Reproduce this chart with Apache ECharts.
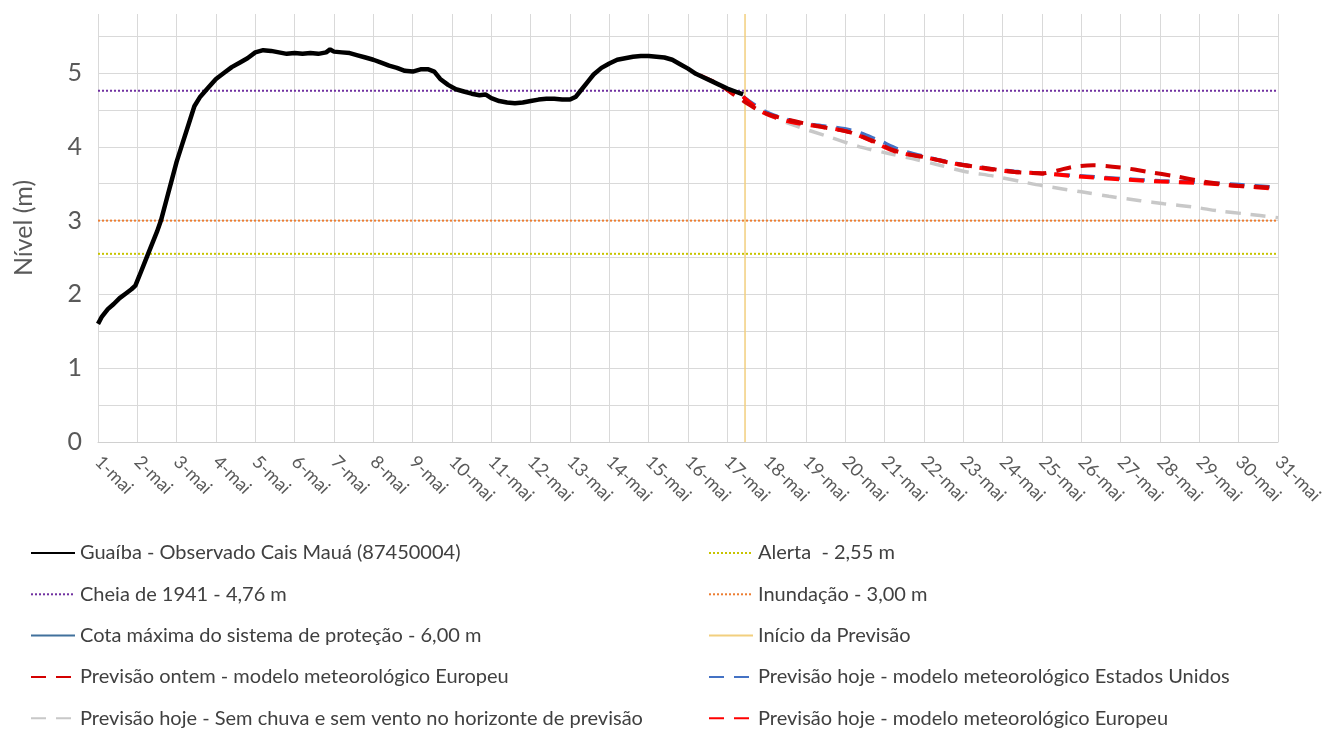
<!DOCTYPE html>
<html>
<head>
<meta charset="utf-8">
<script src="https://cdn.jsdelivr.net/npm/echarts@6/dist/echarts.min.js"></script>
<style>
  html, body { margin: 0; padding: 0; background: #fff; }
  #chart { width: 1326px; height: 729px; }
</style>
</head>
<body>
<div id="chart"></div>
<script>
// days of May (1 = 1-mai), values in metres
const dayTicks = [1, 31];

const observado = [
  [1.0, 1.60], [1.1, 1.70], [1.25, 1.80], [1.4, 1.87], [1.55, 1.95], [1.7, 2.01], [1.85, 2.07], [1.95, 2.12],
  [2.05, 2.25], [2.2, 2.45], [2.35, 2.65], [2.5, 2.85], [2.6, 3.0], [2.75, 3.3], [2.9, 3.6], [3.0, 3.8],
  [3.15, 4.05], [3.3, 4.3], [3.45, 4.55], [3.6, 4.68], [3.8, 4.80], [4.0, 4.92], [4.2, 5.0], [4.4, 5.08],
  [4.6, 5.14], [4.8, 5.2], [5.0, 5.28], [5.2, 5.31], [5.4, 5.30], [5.6, 5.28], [5.8, 5.26], [6.0, 5.27],
  [6.2, 5.26], [6.4, 5.27], [6.6, 5.26], [6.8, 5.28], [6.9, 5.32], [7.0, 5.29], [7.2, 5.28], [7.4, 5.27],
  [7.6, 5.24], [7.8, 5.21], [8.0, 5.18], [8.2, 5.14], [8.4, 5.10], [8.6, 5.07], [8.8, 5.03], [9.0, 5.02],
  [9.2, 5.05], [9.4, 5.05], [9.55, 5.02], [9.7, 4.92], [9.9, 4.84], [10.1, 4.78], [10.3, 4.75], [10.5, 4.72],
  [10.7, 4.70], [10.85, 4.71], [11.0, 4.66], [11.2, 4.62], [11.4, 4.60], [11.6, 4.59], [11.8, 4.60], [12.0, 4.62],
  [12.2, 4.64], [12.4, 4.65], [12.6, 4.65], [12.8, 4.64], [13.0, 4.64], [13.15, 4.68], [13.3, 4.78], [13.45, 4.88],
  [13.6, 4.98], [13.8, 5.07], [14.0, 5.13], [14.2, 5.18], [14.4, 5.20], [14.6, 5.22], [14.8, 5.23], [15.0, 5.23],
  [15.2, 5.22], [15.4, 5.21], [15.6, 5.18], [15.8, 5.12], [16.0, 5.06], [16.2, 4.99], [16.4, 4.94], [16.6, 4.89],
  [16.8, 4.84], [17.0, 4.79], [17.2, 4.75], [17.4, 4.71]
];

const previsaoOntemEuropeu = [
  [16.3, 4.97], [16.8, 4.84], [17.3, 4.66], [17.9, 4.47], [18.6, 4.36], [19.4, 4.27], [20.1, 4.20], [20.7, 4.08],
  [21.3, 3.94], [22.1, 3.85], [22.8, 3.77], [23.6, 3.71], [24.3, 3.66], [25.0, 3.64], [25.4, 3.68], [25.8, 3.73],
  [26.3, 3.75], [27.0, 3.72], [27.7, 3.66], [28.4, 3.60], [29.1, 3.53], [29.8, 3.48], [30.4, 3.46], [31.0, 3.44]
];

const previsaoHojeEUA = [
  [17.4, 4.68], [18.0, 4.47], [18.8, 4.33], [19.5, 4.28], [20.2, 4.22], [20.8, 4.10], [21.4, 3.96], [22.1, 3.86],
  [22.8, 3.78], [23.6, 3.71], [24.3, 3.67], [25.0, 3.64], [25.9, 3.61], [27.0, 3.57], [28.0, 3.54], [29.0, 3.52],
  [30.0, 3.49], [31.0, 3.45]
];

const previsaoHojeEuropeu = [
  [17.4, 4.68], [17.9, 4.47], [18.6, 4.34], [19.4, 4.27], [20.1, 4.20], [20.7, 4.07], [21.3, 3.93], [22.1, 3.85],
  [22.8, 3.77], [23.6, 3.70], [24.3, 3.66], [25.0, 3.64], [25.9, 3.60], [27.0, 3.56], [28.0, 3.53], [29.0, 3.51],
  [30.0, 3.47], [31.0, 3.43]
];

const previsaoSemChuva = [
  [17.4, 4.68], [18.0, 4.45], [18.65, 4.30], [19.56, 4.14], [20.37, 4.00], [21.1, 3.91], [21.7, 3.84], [22.4, 3.75],
  [23.0, 3.67], [23.8, 3.60], [24.55, 3.52], [25.05, 3.47], [26.0, 3.39], [26.7, 3.33], [27.5, 3.27], [28.1, 3.23],
  [28.9, 3.18], [29.5, 3.13], [30.2, 3.09], [31.0, 3.04]
];

const cheia1941 = 4.76;
const alerta = 2.55;
const inundacao = 3.00;
const cotaMaxima = 6.00;
const inicioPrevisao = 17.45;
const yMax = 5.8;

const hline = v => dayTicks.map(d => [d, v]);

const chart = echarts.init(document.getElementById('chart'));

// last split line (at yMax) is left invisible, the reference has no top border
const gridColors = [];
for (let i = 0; i < 12; i++) gridColors.push('#d9d9d9');
gridColors.push('rgba(0,0,0,0)');

const legendText = { fontFamily: 'Lato', fontSize: 20, color: '#404040' };
const legendBase = {
  orient: 'vertical', top: 543, itemGap: 21.3, itemWidth: 44, itemHeight: 20,
  textStyle: legendText, padding: 0,
  itemStyle: { opacity: 0 }
};

chart.setOption({
  animation: false,
  backgroundColor: '#fff',
  textStyle: { fontFamily: 'Lato' },
  grid: { left: 98, right: 48, top: 14, bottom: 287 },
  legend: [
    Object.assign({}, legendBase, {
      left: 30,
      data: ['Guaíba - Observado Cais Mauá (87450004)', 'Cheia de 1941 - 4,76 m',
        'Cota máxima do sistema de proteção - 6,00 m', 'Previsão ontem - modelo meteorológico Europeu',
        'Previsão hoje - Sem chuva e sem vento no horizonte de previsão']
    }),
    Object.assign({}, legendBase, {
      left: 708,
      data: ['Alerta  - 2,55 m', 'Inundação - 3,00 m', 'Início da Previsão',
        'Previsão hoje - modelo meteorológico Estados Unidos', 'Previsão hoje - modelo meteorológico Europeu']
    })
  ],
  xAxis: {
    type: 'value', min: 1, max: 31, interval: 1,
    axisLine: { show: true, lineStyle: { color: '#d0d0d0', width: 1 } },
    axisTick: { show: false },
    splitLine: { show: true, lineStyle: { color: '#d9d9d9', width: 1 } },
    axisLabel: {
      rotate: -45, color: '#595959', fontSize: 18, margin: 17,
      formatter: v => v + '-mai'
    }
  },
  yAxis: {
    type: 'value', min: 0, max: yMax, interval: 0.5,
    name: 'Nível (m)', nameLocation: 'middle', nameGap: 62, nameRotate: 90,
    nameTextStyle: { fontSize: 25, color: '#595959' },
    axisLine: { show: false },
    axisTick: { show: false },
    splitLine: { show: true, lineStyle: { color: gridColors, width: 1 } },
    axisLabel: {
      color: '#595959', fontSize: 25, margin: 16,
      formatter: v => (Number.isInteger(v) ? String(v) : '')
    }
  },
  series: [
    {
      name: 'Alerta  - 2,55 m', type: 'line', data: hline(alerta), symbol: 'none', z: 2,
      color: '#c8c400', lineStyle: { color: '#c8c400', width: 2, type: 'dotted' }
    },
    {
      name: 'Inundação - 3,00 m', type: 'line', data: hline(inundacao), symbol: 'none', z: 2,
      color: '#ed7d31', lineStyle: { color: '#ed7d31', width: 2, type: 'dotted' }
    },
    {
      name: 'Cheia de 1941 - 4,76 m', type: 'line', data: hline(cheia1941), symbol: 'none', z: 2,
      color: '#7030a0', lineStyle: { color: '#7030a0', width: 2, type: 'dotted' }
    },
    {
      name: 'Cota máxima do sistema de proteção - 6,00 m', type: 'line', data: hline(cotaMaxima), symbol: 'none', z: 2,
      color: '#41719c', lineStyle: { color: '#41719c', width: 2 }
    },
    {
      name: 'Início da Previsão', type: 'line', data: [[inicioPrevisao, 0], [inicioPrevisao, yMax]], symbol: 'none', z: 2,
      color: '#f2cf7e', lineStyle: { color: '#f2cf7e', width: 1.5 }
    },
    {
      name: 'Previsão hoje - Sem chuva e sem vento no horizonte de previsão', type: 'line', data: previsaoSemChuva,
      symbol: 'none', smooth: 0.3, z: 3,
      color: '#c8c8c8', lineStyle: { color: '#c8c8c8', width: 3.5, type: [15, 10] }
    },
    {
      name: 'Previsão hoje - modelo meteorológico Estados Unidos', type: 'line', data: previsaoHojeEUA,
      symbol: 'none', smooth: 0.3, z: 4,
      color: '#4472c4', lineStyle: { color: '#4472c4', width: 3.5, type: [15, 10] }
    },
    {
      name: 'Previsão hoje - modelo meteorológico Europeu', type: 'line', data: previsaoHojeEuropeu,
      symbol: 'none', smooth: 0.3, z: 5,
      color: '#ff0000', lineStyle: { color: '#ff0000', width: 4, type: [15, 10] }
    },
    {
      name: 'Previsão ontem - modelo meteorológico Europeu', type: 'line', data: previsaoOntemEuropeu,
      symbol: 'none', smooth: 0.3, z: 5,
      color: '#d40000', lineStyle: { color: '#d40000', width: 4, type: [15, 10] }
    },
    {
      name: 'Guaíba - Observado Cais Mauá (87450004)', type: 'line', data: observado,
      symbol: 'none', z: 6,
      color: '#000000', lineStyle: { color: '#000000', width: 4.5 }
    }
  ]
});
</script>
</body>
</html>
